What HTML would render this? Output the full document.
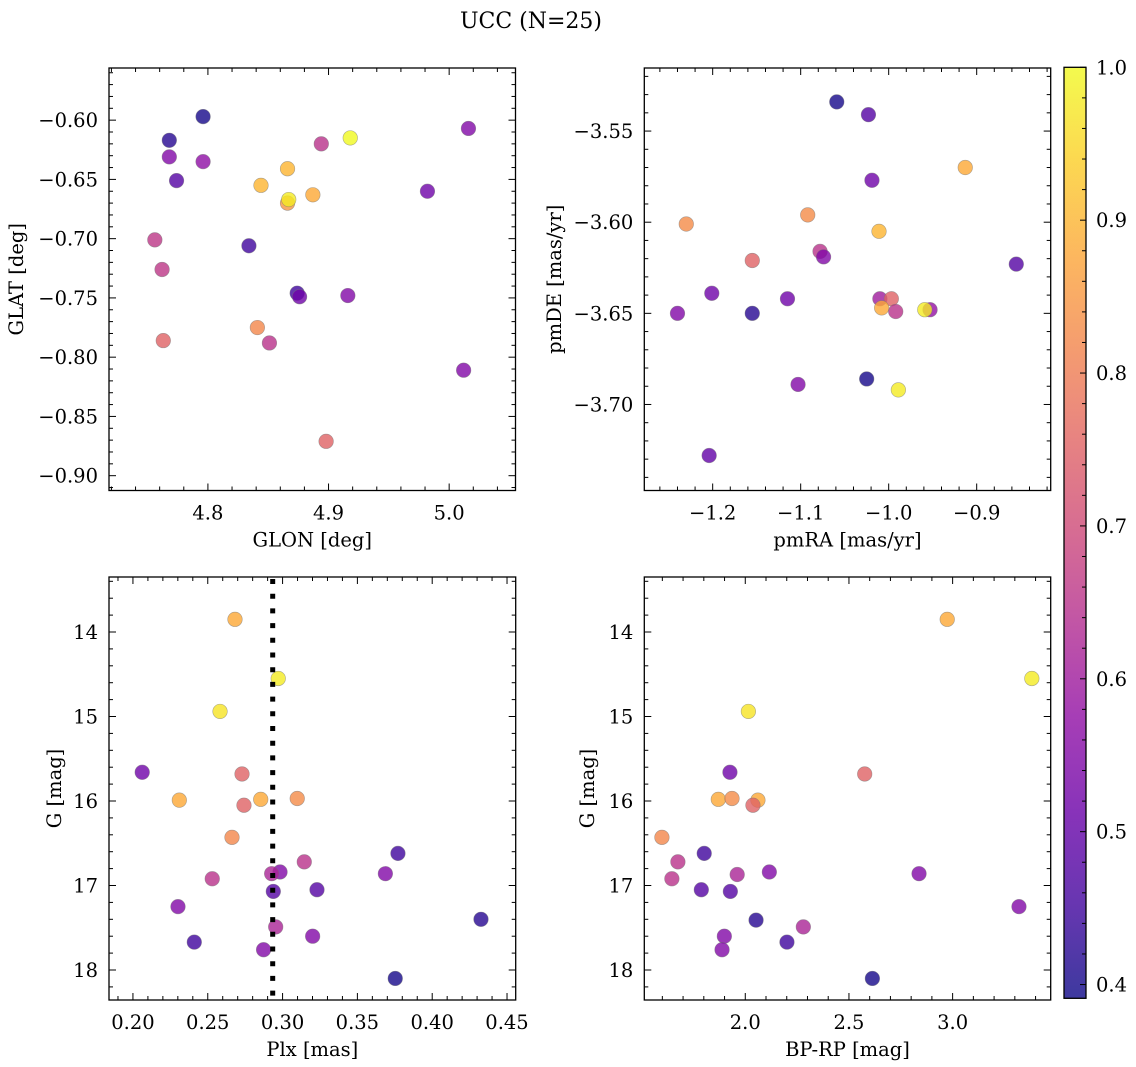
<!DOCTYPE html>
<html><head><meta charset="utf-8"><style>
html,body{margin:0;padding:0;background:#fff;}
svg{display:block;font-family:"DejaVu Serif","Liberation Serif",serif;}
</style></head><body>
<svg id="fig" width="1136" height="1067" viewBox="0 0 1136 1067" xmlns="http://www.w3.org/2000/svg">
<rect width="1136" height="1067" fill="#fff"/>
<text x="531" y="28" font-size="22" text-anchor="middle">UCC (N=25)</text>
<defs><linearGradient id="cbg" x1="0" y1="1" x2="0" y2="0"></linearGradient></defs>
</svg>
<script>
// ---- data ----
const glon = [4.796,4.768,4.768,4.796,4.774,4.894,4.918,5.016,4.866,4.844,4.887,4.866,4.867,4.982,4.756,4.834,4.762,4.874,4.876,4.916,4.841,4.763,4.851,5.012,4.898];
const glat = [-0.597,-0.617,-0.631,-0.635,-0.651,-0.620,-0.615,-0.607,-0.641,-0.655,-0.663,-0.670,-0.667,-0.660,-0.701,-0.706,-0.726,-0.746,-0.749,-0.748,-0.775,-0.786,-0.788,-0.811,-0.871];
const prob1 = [0.40,0.42,0.55,0.57,0.48,0.65,1.0,0.55,0.90,0.90,0.88,0.85,0.98,0.52,0.66,0.45,0.66,0.45,0.52,0.55,0.82,0.75,0.65,0.55,0.75];

const pmra = [-1.059,-1.023,-0.913,-1.019,-1.092,-1.230,-1.011,-1.078,-1.074,-1.155,-0.855,-1.201,-1.115,-1.010,-0.997,-1.008,-0.992,-0.953,-0.959,-1.240,-1.155,-1.103,-1.025,-0.989,-1.204];
const pmde = [-3.534,-3.541,-3.570,-3.577,-3.596,-3.601,-3.605,-3.616,-3.619,-3.621,-3.623,-3.639,-3.642,-3.642,-3.642,-3.647,-3.649,-3.648,-3.648,-3.650,-3.650,-3.689,-3.686,-3.692,-3.728];
const prob2 = [0.40,0.48,0.88,0.52,0.83,0.83,0.90,0.65,0.55,0.75,0.48,0.52,0.52,0.60,0.75,0.88,0.65,0.58,0.98,0.55,0.42,0.55,0.40,0.98,0.50];

const plx = [0.2682,0.2971,0.2582,0.2062,0.2729,0.2310,0.2854,0.3098,0.2742,0.2662,0.3771,0.3145,0.2983,0.2927,0.3687,0.2530,0.2938,0.3230,0.2301,0.4326,0.2954,0.3201,0.2410,0.2873,0.3753];
const gmag3 = [13.85,14.55,14.94,15.66,15.68,15.99,15.98,15.97,16.05,16.43,16.62,16.72,16.84,16.86,16.86,16.92,17.07,17.05,17.25,17.40,17.49,17.60,17.67,17.76,18.10];
const prob3 = [0.88,0.98,0.97,0.52,0.75,0.88,0.88,0.83,0.75,0.82,0.45,0.65,0.55,0.62,0.55,0.65,0.48,0.48,0.55,0.42,0.62,0.55,0.45,0.55,0.40];

const bprp = [2.974,3.382,2.015,1.926,2.576,1.870,1.936,2.061,2.037,1.598,1.802,1.675,2.116,1.961,2.838,1.646,1.788,1.928,3.320,2.052,2.280,1.899,2.201,1.888,2.613];
const gmag4 = [13.85,14.55,14.94,15.66,15.68,15.98,15.97,15.99,16.05,16.43,16.62,16.72,16.84,16.87,16.86,16.92,17.05,17.07,17.25,17.41,17.49,17.60,17.67,17.76,18.10];
const prob4 = [0.88,0.98,0.97,0.52,0.75,0.88,0.83,0.88,0.75,0.82,0.45,0.65,0.55,0.62,0.55,0.65,0.48,0.48,0.55,0.42,0.62,0.55,0.45,0.55,0.40];

const plxLine = 0.2934;
const cbTicks = [0.4,0.5,0.6,0.7,0.8,0.9,1.0];
const cbMin = 0.391, cbMax = 1.0;

// ---- helpers ----
const NS = "http://www.w3.org/2000/svg";
const svg = document.getElementById('fig');
const FS = 19.5;
function mk(tag, attrs, parent){ const e=document.createElementNS(NS,tag); for(const k in attrs) e.setAttribute(k,attrs[k]); (parent||svg).appendChild(e); return e; }
const plasma = ["#0d0887","#41049d","#6a00a8","#8f0da4","#b12a90","#cc4778","#e16462","#f2844b","#fca636","#fcce25","#f0f921"];
function hex(h){return [parseInt(h.substr(1,2),16),parseInt(h.substr(3,2),16),parseInt(h.substr(5,2),16)];}
function cmap(v){ let t=(v-cbMin)/(cbMax-cbMin); t=Math.max(0,Math.min(1,t)); const s=t*10, i=Math.min(9,Math.floor(s)), f=s-i; const a=hex(plasma[i]), b=hex(plasma[i+1]); return `rgb(${a.map((x,k)=>Math.round(x+(b[k]-x)*f)).join(',')})`; }
function fmt(v, d){ const s=Math.abs(v).toFixed(d); return (v<-1e-9?"\u2212":"")+s; }

function panel(cfg){
  const {L,T,R,B,x0,x1,y0,y1,invY} = cfg;
  const sx = v => L+(v-x0)/(x1-x0)*(R-L);
  const sy = invY ? (v => T+(v-y0)/(y1-y0)*(B-T)) : (v => B-(v-y0)/(y1-y0)*(B-T));
  const g = mk('g',{});
  
  
  const tk = mk('g',{stroke:'#000','stroke-width':1},g);
  
  
  const eps=1e-9;
  for(let v=Math.ceil(x0/cfg.xmin-eps)*cfg.xmin; v<=x1+eps; v+=cfg.xmin){
    const major = Math.abs(v/cfg.xmaj-Math.round(v/cfg.xmaj))<1e-6;
    const len = major?7:4, X=sx(v);
    mk('line',{x1:X,x2:X,y1:B,y2:B-len},tk); mk('line',{x1:X,x2:X,y1:T,y2:T+len},tk);
  }
  for(let v=Math.ceil(y0/cfg.ymin-eps)*cfg.ymin; v<=y1+eps; v+=cfg.ymin){
    const major = Math.abs(v/cfg.ymaj-Math.round(v/cfg.ymaj))<1e-6;
    const len = major?7:4, Y=sy(v);
    mk('line',{x1:L,x2:L+len,y1:Y,y2:Y},tk); mk('line',{x1:R,x2:R-len,y1:Y,y2:Y},tk);
  }
  cfg.xticks.forEach(v=>{ const t=mk('text',{x:sx(v),y:B+29,'font-size':FS,'text-anchor':'middle'},g); t.textContent=fmt(v,cfg.xd);
      });
  cfg.yticks.forEach(v=>{ const t=mk('text',{x:L-11,y:sy(v)+7,'font-size':FS,'text-anchor':'end'},g); t.textContent=fmt(v,cfg.yd);
      });
  const xl=mk('text',{x:(L+R)/2,y:B+56,'font-size':FS,'text-anchor':'middle'},g); xl.textContent=cfg.xlabel;
   
  const yl=mk('text',{x:cfg.ylx,y:(T+B)/2,'font-size':FS,'text-anchor':'middle',transform:`rotate(-90 ${cfg.ylx} ${(T+B)/2})`},g); yl.textContent=cfg.ylabel;
   
  const cid='clip'+cfg.name; const cp=mk('clipPath',{id:cid},g); mk('rect',{x:L,y:T,width:R-L,height:B-T},cp);
  const pts=mk('g',{'clip-path':`url(#${cid})`},g);
   
  cfg.xs.forEach((xv,i)=>{ const c=mk('circle',{cx:sx(xv),cy:sy(cfg.ys[i]),r:7.3,fill:cmap(cfg.cs[i]),'fill-opacity':0.8,stroke:'#777','stroke-opacity':0.6,'stroke-width':0.6},pts);
      });
  if(cfg.vline!==undefined){ const X=sx(cfg.vline); const ln=mk('line',{x1:X,x2:X,y1:T+2,y2:B,stroke:'#000','stroke-width':5,'stroke-dasharray':'5 9.7'},pts);
      }
  const fr=mk('rect',{x:L,y:T,width:R-L,height:B-T,fill:'none',stroke:'#000','stroke-width':1.3},g);
   
}

panel({name:'glon-glat-panel',L:109,T:68,R:515.5,B:490.5,x0:4.718,x1:5.055,y0:-0.9125,y1:-0.556,
  xmaj:0.1,xmin:0.02,ymaj:0.05,ymin:0.01,xticks:[4.8,4.9,5.0],xd:1,yticks:[-0.90,-0.85,-0.80,-0.75,-0.70,-0.65,-0.60],yd:2,
  xlabel:'GLON [deg]',ylabel:'GLAT [deg]',ylx:23,xs:glon,ys:glat,cs:prob1});
panel({name:'pm-panel',L:644.3,T:68,R:1050.7,B:490.5,x0:-1.2777,x1:-0.8159,y0:-3.7472,y1:-3.5154,
  xmaj:0.1,xmin:0.02,ymaj:0.05,ymin:0.01,xticks:[-1.2,-1.1,-1.0,-0.9],xd:1,yticks:[-3.70,-3.65,-3.60,-3.55],yd:2,
  xlabel:'pmRA [mas/yr]',ylabel:'pmDE [mas/yr]',ylx:561,xs:pmra,ys:pmde,cs:prob2});
panel({name:'plx-g-panel',L:109,T:577,R:515.7,B:1000,x0:0.184,x1:0.4558,y0:13.349,y1:18.355,invY:true,
  xmaj:0.05,xmin:0.01,ymaj:1,ymin:0.2,xticks:[0.20,0.25,0.30,0.35,0.40,0.45],xd:2,yticks:[14,15,16,17,18],yd:0,
  xlabel:'Plx [mas]',ylabel:'G [mag]',ylx:61,xs:plx,ys:gmag3,cs:prob3,vline:plxLine});
panel({name:'cmd-panel',L:644.3,T:577,R:1050.7,B:1000,x0:1.513,x1:3.473,y0:13.349,y1:18.355,invY:true,
  xmaj:0.5,xmin:0.1,ymaj:1,ymin:0.2,xticks:[2.0,2.5,3.0],xd:1,yticks:[14,15,16,17,18],yd:0,
  xlabel:'BP-RP [mag]',ylabel:'G [mag]',ylx:594,xs:bprp,ys:gmag4,cs:prob4});

// ---- colorbar ----
(function(){
  const L=1064,R=1086,T=67.3,B=998.3;
  const sy=v=>B-(v-cbMin)/(cbMax-cbMin)*(B-T);
  const grad=document.getElementById('cbg');
  for(let i=0;i<=20;i++){ const v=cbMin+(cbMax-cbMin)*i/20; mk('stop',{offset:(i/20),'stop-color':cmap(v),'stop-opacity':0.8},grad); }
  const g=mk('g',{});
   
  mk('rect',{x:L,y:T,width:R-L,height:B-T,fill:'url(#cbg)'},g);
  for(let v=0.40; v<=1.0001; v+=0.02){ const major=Math.abs(v*10-Math.round(v*10))<1e-6; const Y=sy(v);
    mk('line',{x1:R,x2:R-(major?6:4),y1:Y,y2:Y,stroke:'#000','stroke-width':1},g); }
  cbTicks.forEach(v=>{ const t=mk('text',{x:R+10,y:sy(v)+7,'font-size':FS},g); t.textContent=v.toFixed(1);
      });
  mk('rect',{x:L,y:T,width:R-L,height:B-T,fill:'none',stroke:'#000','stroke-width':1.3},g);
})();
</script>
</body></html>
